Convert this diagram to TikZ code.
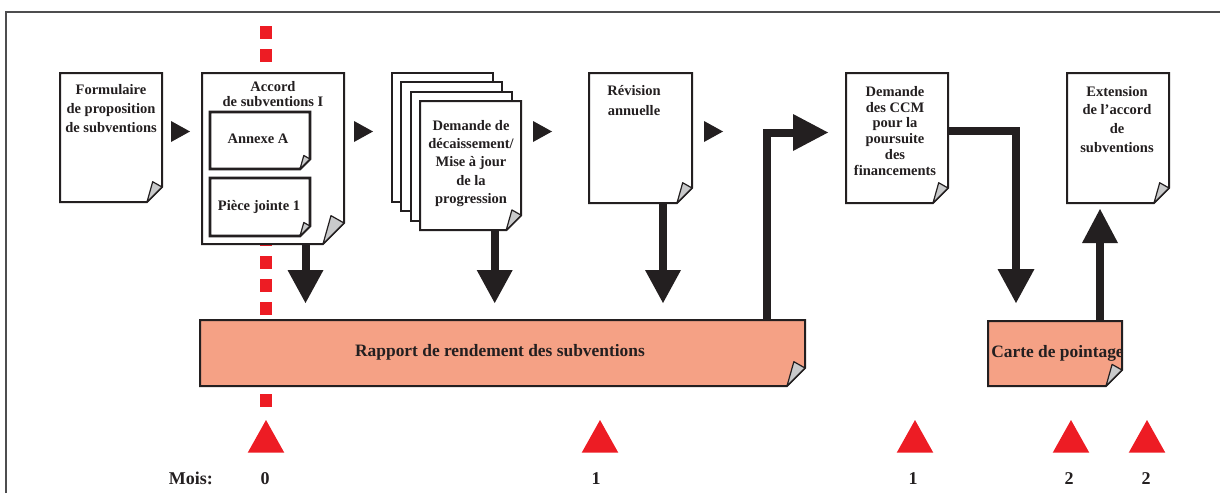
\documentclass[tikz,border=0pt]{standalone}
\usepackage{fontspec}
\setmainfont{Liberation Serif}
\usetikzlibrary{calc}
\definecolor{ink}{HTML}{231F20}
\definecolor{mred}{HTML}{ED1C24}
\definecolor{salmon}{HTML}{F5A185}
\definecolor{curlgray}{HTML}{C9CACB}
\definecolor{framegray}{HTML}{4D4D4F}
\tikzset{
  docline/.style={draw=ink, line width=2pt, line join=miter},
  innerline/.style={draw=ink, line width=2.6pt, line join=miter},
  curl/.style={draw=ink, fill=curlgray, line width=1.2pt, line join=round},
  box/.style={draw=none, inner sep=0pt, outer sep=0pt},
  doctext/.style={font=\fontsize{14.5}{19}\selectfont\bfseries, align=center, inner sep=0pt, anchor=north, text=ink},
  bartext/.style={font=\fontsize{17.4}{20}\selectfont\bfseries, inner sep=0pt, anchor=base, text=ink},
  moistext/.style={font=\fontsize{18}{20}\selectfont\bfseries, inner sep=0pt, anchor=base, text=ink},
  shaft/.style={draw=ink, line width=8pt, line join=miter, line cap=butt},
}
\newcommand\tstrut{\rule{0pt}{10.5pt}}
% #1 fill, #2 node, #3 corner size, #4 line style
\newcommand\docsheet[4][white]{%
  \filldraw[#4, fill=#1] (#2.north west) -- (#2.north east) -- ([yshift=#3pt]#2.south east) -- ([xshift=-#3pt]#2.south east) -- (#2.south west) -- cycle;
  \filldraw[curl] ([xshift=-#3pt]#2.south east) .. controls ([xshift={-0.85*#3pt},yshift={0.7*#3pt}]#2.south east) .. ([xshift={-0.62*#3pt},yshift={1.35*#3pt}]#2.south east) -- ([yshift=#3pt]#2.south east) -- cycle;}
\newcommand\downhead[4][ink]{\fill[#1] ([xshift=-#3pt,yshift=#4pt]#2) -- (#2) -- ([xshift=#3pt,yshift=#4pt]#2) -- cycle;}
\newcommand\uphead[4][ink]{\fill[#1] ([xshift=-#3pt,yshift=-#4pt]#2) -- (#2) -- ([xshift=#3pt,yshift=-#4pt]#2) -- cycle;}
\newcommand\righthead[4][ink]{\fill[#1] ([xshift=-#4pt,yshift=#3pt]#2) -- (#2) -- ([xshift=-#4pt,yshift=-#3pt]#2) -- cycle;}
\begin{document}
\begin{tikzpicture}[x=1pt,y=-1pt]
\useasboundingbox (0,0) rectangle (1220,493);
% frame
\draw[framegray, line width=2pt] (6,493) -- (6,12) -- (1220,12);
% red dotted time line
\draw[mred, line width=12pt, dash pattern=on 13pt off 10pt] (266,26) -- (266,407);

% node boxes
\node[box, minimum width=102pt, minimum height=129pt] (form) at (111,137.5) {};
\node[box, minimum width=142pt, minimum height=171pt] (accord) at (273,158.5) {};
\node[box, minimum width=100pt, minimum height=57pt] (annexA) at (260,140.5) {};
\node[box, minimum width=100pt, minimum height=58pt] (piece) at (260,207) {};
\node[box, minimum width=101pt, minimum height=129pt] (s1) at (442.5,137.5) {};
\node[box, minimum width=101pt, minimum height=129pt] (s2) at (451.9,146.9) {};
\node[box, minimum width=101pt, minimum height=129pt] (s3) at (461.3,156.3) {};
\node[box, minimum width=101pt, minimum height=129pt] (front) at (470.7,165.7) {};
\node[box, minimum width=103pt, minimum height=130pt] (revision) at (640.5,138) {};
\node[box, minimum width=102pt, minimum height=130pt] (ccm) at (897,138) {};
\node[box, minimum width=102pt, minimum height=130pt] (ext) at (1118,138) {};
\node[box, minimum width=605pt, minimum height=66pt] (rapport) at (502.5,353) {};
\node[box, minimum width=134pt, minimum height=65pt] (carte) at (1055,353.5) {};

% documents
\docsheet{form}{15}{docline}
\docsheet{accord}{21}{docline}
\docsheet{annexA}{10}{innerline}
\docsheet{piece}{10}{innerline}
\filldraw[docline, fill=white] (s1.north west) rectangle (s1.south east);
\filldraw[docline, fill=white] (s2.north west) rectangle (s2.south east);
\filldraw[docline, fill=white] (s3.north west) rectangle (s3.south east);
\docsheet{front}{15}{docline}
\docsheet{revision}{15}{docline}
\docsheet{ccm}{15}{docline}
\docsheet{ext}{15}{docline}
\docsheet[salmon]{rapport}{18}{docline}
\docsheet[salmon]{carte}{16}{docline}

% texts
\node[doctext] (formtext) at (111,83.8) {\tstrut Formulaire\\de proposition\\de subventions};
\node[doctext, font=\fontsize{14.5}{14.5}\selectfont\bfseries] (accordtext) at (273,81.2) {\tstrut Accord\\de subventions I};
\node[doctext] (annexAtext) at (258,132.8) {\tstrut Annexe A};
\node[doctext] (piecetext) at (259,199.5) {\tstrut Pièce jointe 1};
\node[doctext, font=\fontsize{14.5}{18.3}\selectfont\bfseries] (fronttext) at (471,119.5) {\tstrut Demande de\\décaissement/\\Mise à jour\\de la\\progression};
\node[doctext, font=\fontsize{14.5}{20}\selectfont\bfseries] (revisiontext) at (634,84.5) {\tstrut Révision\\annuelle};
\node[doctext, font=\fontsize{14.5}{15.8}\selectfont\bfseries] (ccmtext) at (895,85.5) {\tstrut Demande\\des CCM\\pour la\\poursuite\\des\\financements};
\node[doctext, font=\fontsize{14.5}{18.6}\selectfont\bfseries] (exttext) at (1117,85.5) {\tstrut Extension\\de l’accord\\de\\subventions};
\node[bartext] (rapporttext) at (500,356.7) {Rapport de rendement des subventions};
\node[bartext] (cartetext) at (1057.5,357.3) {Carte de pointage};

% small sequence arrows
\coordinate (q1) at (190,131.5);
\coordinate (q2) at (373,131.5);
\coordinate (q3) at (552,131.5);
\coordinate (q4) at (723,131.5);
\righthead{q1}{10.5}{19}
\righthead{q2}{10.5}{19}
\righthead{q3}{10.5}{19}
\righthead{q4}{10.5}{19}

% big arrows
\coordinate (tA) at (305.5,303);
\coordinate (tB) at (494.7,303);
\coordinate (tV) at (663,303);
\draw[shaft] (accord.south -| tA) -- ([yshift=32pt]tA);
\downhead{tA}{18}{33}
\draw[shaft] (front.south -| tB) -- ([yshift=32pt]tB);
\downhead{tB}{18}{33}
\draw[shaft] (revision.south -| tV) -- ([yshift=32pt]tV);
\downhead{tV}{18}{33}

\coordinate (tR) at (828,132.5);
\coordinate (rx) at (766.5,0);
\draw[shaft] (rapport.north -| rx) |- ([xshift=-34pt]tR);
\righthead{tR}{18.5}{35}

\coordinate (tC) at (1016,303);
\draw[shaft] ([yshift=7pt]ccm.east) -| ([yshift=33pt]tC);
\downhead{tC}{18.5}{34}

\coordinate (tU) at (1100,209);
\draw[shaft] (carte.north -| tU) -- ([yshift=-33pt]tU);
\uphead{tU}{18}{34}

% month markers
\coordinate (m0) at (266,420);
\coordinate (m1) at (600,420);
\coordinate (m2) at (915,420);
\coordinate (m3) at (1071,420);
\coordinate (m4) at (1147,420);
\uphead[mred]{m0}{18.3}{32.7}
\uphead[mred]{m1}{18.3}{32.7}
\uphead[mred]{m2}{18.3}{32.7}
\uphead[mred]{m3}{18.3}{32.7}
\uphead[mred]{m4}{18.3}{32.7}
\node[moistext, anchor=base east] (mois) at (213,484) {Mois:};
\node[moistext] (l0) at (265,484) {0};
\node[moistext] (l1) at (596,484) {1};
\node[moistext] (l2) at (913,484) {1};
\node[moistext] (l3) at (1069,484) {2};
\node[moistext] (l4) at (1146,484) {2};
\end{tikzpicture}
\end{document}
